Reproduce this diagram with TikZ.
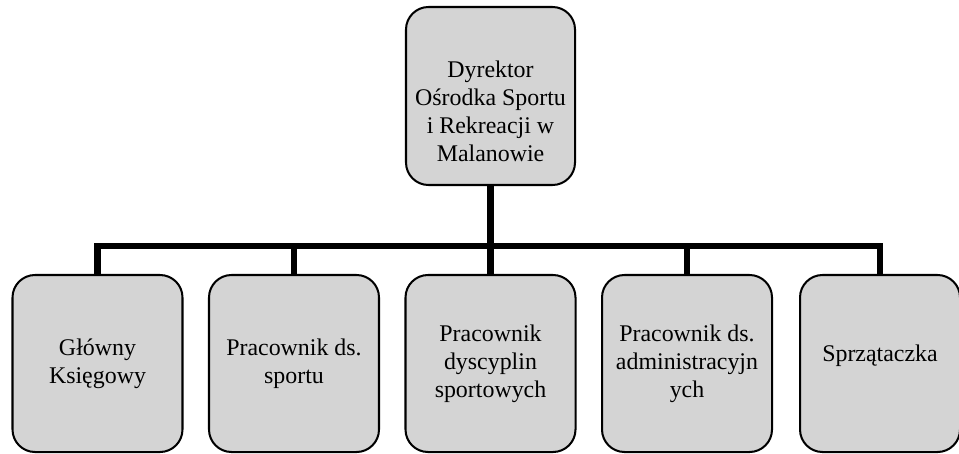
\documentclass[tikz,border=0pt]{standalone}
\usepackage{fontspec}
\setmainfont{Liberation Serif}
\usepackage{tikz}
\usetikzlibrary{positioning}
\definecolor{boxgray}{RGB}{212,212,212}

\begin{document}
\begin{tikzpicture}[node distance=3.93cm, on grid,
        every node/.style={font=\fontsize{13.6}{15.9}\selectfont, align=center},
        post/.style={draw=black, line width=1.15pt, fill=boxgray, rounded corners=0.45cm,
                     minimum width=3.4cm, minimum height=3.54cm, inner sep=0pt,
                     execute at begin node={\rule{0pt}{0.54cm}}},
        link/.style={line width=3.7pt}]
        \useasboundingbox (0,0) rectangle (19.18,-9.06);
                \node[post, minimum height=3.56cm, minimum width=3.38cm] (dyr) at (9.81,-1.92)
                        {\rule{0pt}{0.95cm}Dyrektor\\Ośrodka Sportu\\i Rekreacji w\\Malanowie};
                \node[post] (k3) [below=5.35cm of dyr]  {Pracownik\\dyscyplin\\sportowych};
                \node[post] (k2) [left=of k3]           {Pracownik ds.\\sportu};
                \node[post] (k1) [left=of k2]           {Główny\\Księgowy};
                \node[post] (k4) [right=of k3]          {Pracownik ds.\\administracyjn\\ych};
                \node[post, minimum width=3.2cm] (k5) [right=3.86cm of k4] {Sprzątaczka\rule[-0.62cm]{0pt}{0.62cm}};

            \foreach \k in {k1,k2,k3,k4,k5}
                \draw[link] (dyr.south) -- ++(0,-1.2) -| (\k.north);
        \end{tikzpicture}
\end{document}
